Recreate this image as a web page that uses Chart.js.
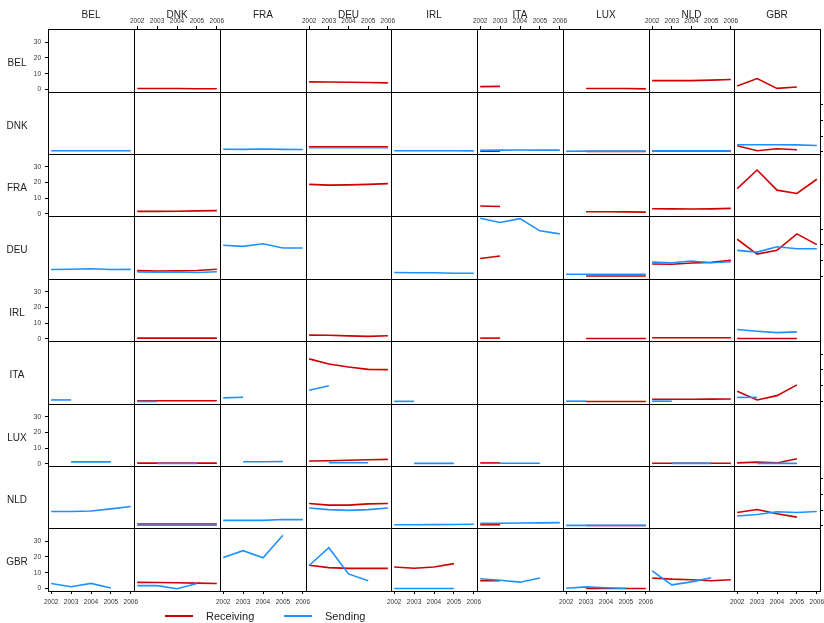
<!DOCTYPE html>
<html>
<head>
<meta charset="utf-8">
<script src="https://cdn.jsdelivr.net/npm/chart.js@4.4.1/dist/chart.umd.min.js"></script>
<style>
  html, body { margin:0; padding:0; background:#fff; }
  body { width:824px; height:623px; overflow:hidden; position:relative; font-family:"Liberation Sans", Arial, Helvetica, sans-serif; }
  #root { position:absolute; left:0; top:0; width:824px; height:623px; overflow:hidden; }
  canvas { position:absolute; }
  .lab { position:absolute; color:#222; white-space:nowrap; transform:translate(-50%,-50%); }
</style>
</head>
<body>
<div id="root"></div>
<script>
// ---------------- DATA ----------------
const years = [2002, 2003, 2004, 2005, 2006];
const countries = ["BEL", "DNK", "FRA", "DEU", "IRL", "ITA", "LUX", "NLD", "GBR"];
const yTickValues = [0, 10, 20, 30];
const seriesNames = ["Receiving", "Sending"];

// Each row array: one entry per column country (BEL..GBR); null = no data in that panel
const receivingBEL = [null, [0.7,0.7,0.7,0.6,0.6], null, [4.9,4.8,4.7,4.5,4.3], null, [1.9,2.1,null,null,null], [null,0.7,0.7,0.7,0.5], [5.7,5.7,5.7,6.0,6.4], [2.3,7.0,0.8,1.7,null]];
const sendingBEL   = [null, null, null, null, null, null, null, null, null];

const receivingDNK = [null, null, null, [3.2,3.1,3.1,3.1,3.1], null, [0.3,0.3,null,null,null], [null,0.1,0.1,0.1,0.1], [0.5,0.5,0.5,0.5,0.5], [3.8,0.6,1.9,1.3,null]];
const sendingDNK   = [[0.6,0.6,0.6,0.6,0.6], null, [1.6,1.5,1.7,1.5,1.4], [2.5,2.5,2.5,2.5,2.5], [0.6,0.6,0.6,0.6,0.5], [0.9,1.0,1.1,1.0,1.0], [0.3,0.4,0.4,0.4,0.4], [0.6,0.6,0.6,0.6,0.6], [4.5,4.5,4.5,4.4,4.0]];

const receivingFRA = [null, [1.5,1.5,1.6,1.8,2.0], null, [18.8,18.3,18.5,18.8,19.3], null, [4.9,4.6,null,null,null], [null,1.3,1.3,1.2,1.0], [3.2,3.1,3.0,3.1,3.4], [16.1,28.0,15.1,13.0,22.1]];
const sendingFRA   = [null, null, null, null, null, null, null, null, null];

const receivingDEU = [null, [3.8,3.6,3.7,3.9,4.7], null, null, null, [11.5,13.0,null,null,null], [null,0.4,0.4,0.4,0.4], [8.0,7.8,8.6,9.0,10.4], [23.6,14.2,16.6,27.0,20.2]];
const sendingDEU   = [[4.5,4.7,5.0,4.5,4.6], [3.0,2.8,3.0,2.6,3.1], [19.8,19.1,20.8,18.1,18.1], null, [2.6,2.5,2.5,2.2,2.2], [36.8,34.2,36.6,28.9,27.0], [1.5,1.5,1.5,1.5,1.5], [9.2,8.8,9.9,8.8,9.4], [16.6,15.5,18.9,17.6,17.6]];

const receivingIRL = [null, [0.4,0.4,0.4,0.4,0.4], null, [2.3,2.2,1.8,1.5,1.9], null, [0.4,0.4,null,null,null], [null,0.1,0.1,0.1,0.1], [0.6,0.6,0.6,0.6,0.6], [0.1,0.1,0.1,0.1,null]];
const sendingIRL   = [null, null, null, null, null, null, null, null, [5.9,4.8,3.9,4.4,null]];

const receivingITA = [null, [0.6,0.6,0.6,0.6,0.6], null, [27.0,23.8,21.9,20.4,20.2], null, null, [null,0.1,0.1,0.1,0.1], [1.5,1.5,1.5,1.6,1.7], [6.6,1.1,3.8,10.6,null]];
const sendingITA   = [[1.1,1.1,null,null,null], [0.1,0.1,null,null,null], [2.4,2.8,null,null,null], [7.2,10.0,null,null,null], [0.2,0.2,null,null,null], null, [0.3,0.3,null,null,null], [0.3,0.3,null,null,null], [2.7,2.7,null,null,null]];

const receivingLUX = [null, [0.4,0.4,0.4,0.4,0.4], null, [1.7,1.9,2.2,2.5,2.8], null, [0.5,0.5,null,null,null], null, [0.3,0.3,0.3,0.3,0.3], [0.5,1.0,0.5,3.2,null]];
const sendingLUX   = [[null,1.2,1.2,1.2,null], [null,0.1,0.1,0.1,null], [null,1.3,1.3,1.4,null], [null,0.6,0.6,0.6,null], [null,0.2,0.2,0.2,null], [null,0.3,0.3,0.3,null], null, [null,0.2,0.2,0.2,null], [null,0.2,0.2,0.2,null]];

const receivingNLD = [null, [1.1,1.1,1.1,1.1,1.1], null, [14.2,13.2,13.2,14.0,14.2], null, [0.6,0.6,null,null,null], [null,0.1,0.1,0.1,0.1], null, [8.5,10.4,7.7,5.5,null]];
const sendingNLD   = [[9.1,9.1,9.4,10.8,12.3], [0.3,0.3,0.3,0.3,0.3], [3.4,3.4,3.4,4.0,3.9], [11.3,10.3,9.8,10.3,11.3], [0.6,0.6,0.7,0.8,0.9], [1.5,1.6,1.7,1.8,2.0], [0.2,0.2,0.2,0.2,0.2], null, [6.2,7.2,8.9,8.5,9.1]];

const receivingGBR = [null, [4.0,3.9,3.7,3.5,3.3], null, [14.8,13.3,12.8,12.8,12.8], [13.7,12.9,13.7,15.8,null], [5.0,5.0,null,null,null], [null,0.1,0.1,0.1,0.1], [6.7,6.0,5.6,5.0,5.6], null];
const sendingGBR   = [[3.3,1.2,3.3,0.4,null], [1.9,1.9,0.0,3.3,null], [19.7,24.0,19.5,33.7,null], [14.6,25.8,9.3,5.0,null], [0.1,0.1,0.1,0.1,null], [6.3,5.3,4.1,6.7,null], [0.3,1.1,0.6,0.2,null], [11.2,2.4,4.3,6.9,null], null];

const receivingRows = [receivingBEL, receivingDNK, receivingFRA, receivingDEU, receivingIRL, receivingITA, receivingLUX, receivingNLD, receivingGBR];
const sendingRows   = [sendingBEL, sendingDNK, sendingFRA, sendingDEU, sendingIRL, sendingITA, sendingLUX, sendingNLD, sendingGBR];

// ---------------- LAYOUT / STYLE ----------------
const xEdges = [48, 134, 220, 306, 391, 477, 563, 649, 734, 820];
const yEdges = [29, 92, 154, 216, 279, 341, 404, 466, 528, 591];
const M = 22;
const RED = '#cc0000';
const BLUE = '#1e90ff';
const FONT = '"Liberation Sans", Arial, Helvetica, sans-serif';

// axis ranges: data range padded 4% each side (lattice style)
let dMax = -Infinity, dMin = Infinity;
[...receivingRows, ...sendingRows].forEach(row => row.forEach(p => { if (p) p.forEach(v => { if (v !== null) { dMax = Math.max(dMax, v); dMin = Math.min(dMin, v); } }); }));
const yRange = dMax - dMin;
const Y_MIN = dMin - 0.04 * yRange, Y_MAX = dMax + 0.04 * yRange;
const xR = years[years.length - 1] - years[0];
const X_MIN = years[0] - 0.04 * xR, X_MAX = years[years.length - 1] + 0.04 * xR;

const root = document.getElementById('root');

function pts(arr) {
  return arr ? years.map((y, i) => ({ x: y, y: arr[i] })) : [];
}

function axis(position, isX, showTicks, showLabels, padding) {
  const tickVals = isX ? years : yTickValues;
  return {
    type: 'linear',
    position: position,
    display: true,
    min: isX ? X_MIN : Y_MIN,
    max: isX ? X_MAX : Y_MAX,
    afterBuildTicks: s => { s.ticks = tickVals.map(v => ({ value: v })); },
    afterFit: s => { if (s.isHorizontal()) s.height = M; else s.width = M; },
    grid: { display: showTicks, drawOnChartArea: false, drawTicks: true, tickLength: 3, color: '#000', lineWidth: 1 },
    border: { display: true, color: '#000', width: 1 },
    ticks: {
      display: showLabels,
      autoSkip: false,
      maxRotation: 0,
      minRotation: 0,
      padding: padding,
      color: '#333',
      font: { family: FONT, size: 6.5 },
      callback: v => String(v)
    }
  };
}

for (let r = 0; r < 9; r++) {
  for (let c = 0; c < 9; c++) {
    const left = xEdges[c], top = yEdges[r];
    const w = xEdges[c + 1] - left, h = yEdges[r + 1] - top;
    const W = w + 2 * M, H = h + 2 * M;
    const cv = document.createElement('canvas');
    cv.width = W; cv.height = H;
    cv.style.left = (left - M) + 'px';
    cv.style.top = (top - M) + 'px';
    cv.style.width = W + 'px';
    cv.style.height = H + 'px';
    root.appendChild(cv);

    const topTicks = (r === 0 && c % 2 === 1);
    const bottomTicks = (r === 8 && c % 2 === 0);
    const leftTicks = (c === 0 && r % 2 === 0);
    const rightTicks = (c === 8 && r % 2 === 1);

    const recv = r === c ? null : receivingRows[r][c];
    const send = r === c ? null : sendingRows[r][c];

    new Chart(cv, {
      type: 'line',
      data: {
        datasets: [
          { label: seriesNames[1], data: pts(send), borderColor: BLUE, borderWidth: 1.6, pointRadius: 0, tension: 0, spanGaps: false, order: 1, xAxisID: 'x', yAxisID: 'y' },
          { label: seriesNames[0], data: pts(recv), borderColor: RED, borderWidth: 1.6, pointRadius: 0, tension: 0, spanGaps: false, order: 2, xAxisID: 'x', yAxisID: 'y' }
        ]
      },
      options: {
        responsive: false,
        animation: false,
        events: [],
        devicePixelRatio: 1,
        layout: { padding: 0 },
        plugins: { legend: { display: false }, tooltip: { enabled: false } },
        scales: {
          x: axis('bottom', true, bottomTicks, bottomTicks, 4),
          xTop: axis('top', true, topTicks, topTicks, 1),
          y: axis('left', false, leftTicks, leftTicks, 4),
          yRight: axis('right', false, rightTicks, false, 4)
        }
      }
    });
  }
}

// strip labels (column headers and row labels)
function addLabel(text, x, y, size) {
  const d = document.createElement('div');
  d.className = 'lab';
  d.textContent = text;
  d.style.left = x + 'px';
  d.style.top = y + 'px';
  d.style.fontSize = size + 'px';
  root.appendChild(d);
}
countries.forEach((name, i) => {
  addLabel(name, (xEdges[i] + xEdges[i + 1]) / 2, 13.5, 10);
  addLabel(name, 17, (yEdges[i] + yEdges[i + 1]) / 2 + 1.5, 10);
});

// legend
function addLegend(name, color, x0) {
  const line = document.createElement('div');
  line.style.cssText = `position:absolute;left:${x0}px;top:615px;width:28px;height:2px;background:${color};`;
  root.appendChild(line);
  const t = document.createElement('div');
  t.style.cssText = `position:absolute;left:${x0 + 41}px;top:609px;font-size:11px;line-height:14px;color:#222;white-space:nowrap;`;
  t.textContent = name;
  root.appendChild(t);
}
addLegend(seriesNames[0], RED, 165);
addLegend(seriesNames[1], BLUE, 284);
</script>
</body>
</html>
